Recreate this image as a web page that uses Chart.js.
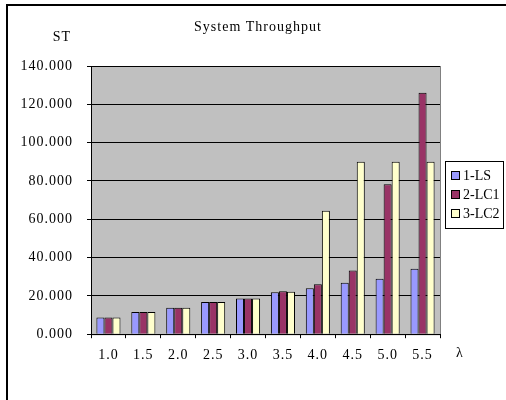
<!DOCTYPE html>
<html>
<head>
<meta charset="utf-8">
<script src="https://cdn.jsdelivr.net/npm/chart.js@4.4.0/dist/chart.umd.min.js"></script>
<style>
  html, body { margin: 0; padding: 0; background: #fff; overflow: hidden; }
  #wrap { position: relative; width: 506px; height: 400px; }
  #frame { position: absolute; left: 6px; top: 4px; width: 700px; height: 600px; border: 2px solid #000; }
  #myChart { position: absolute; left: 0; top: 0; }
</style>
</head>
<body>
<div id="wrap">
  <div id="frame"></div>
  <canvas id="myChart" width="506" height="400"></canvas>
</div>
<script>
// data
const lambdas = ["1.0", "1.5", "2.0", "2.5", "3.0", "3.5", "4.0", "4.5", "5.0", "5.5"]
const ls  = [8.7, 11.6, 13.8, 16.8, 18.7, 21.9, 24.0, 26.8, 28.9, 34.1]
const lc1 = [8.7, 11.6, 13.8, 16.8, 18.7, 22.4, 26.1, 33.2, 78.3, 126.1]
const lc2 = [8.7, 11.6, 13.8, 16.8, 18.7, 22.2, 64.4, 90.0, 90.0, 90.0]
const seriesNames = ["1-LS", "2-LC1", "3-LC2"]
const yTicks = [0, 20, 40, 60, 80, 100, 120, 140]
const chartTitle = "System Throughput"

const font = "'Liberation Serif', 'DejaVu Serif', serif"

// grey plot area + title, axis names and boxed legend
const excelLook = {
    id: 'excelLook',
    beforeDraw(chart) {
        let a = chart.chartArea
        let ctx = chart.ctx
        // wider spacing like the original CJK font
        ctx.letterSpacing = '1px'
        ctx.save()
        ctx.fillStyle = '#c0c0c0'
        ctx.fillRect(a.left, a.top, a.right - a.left, a.bottom - a.top)
        ctx.strokeStyle = '#808080'
        ctx.lineWidth = 1
        ctx.strokeRect(a.left + 0.5, a.top + 0.5, a.right - a.left, a.bottom - a.top)
        ctx.restore()
    },
    afterDraw(chart) {
        let ctx = chart.ctx
        ctx.save()
        ctx.fillStyle = '#000'
        ctx.font = "14px " + font
        ctx.textBaseline = 'middle'
        ctx.textAlign = 'center'
        ctx.fillText(chartTitle, 258, 27)
        ctx.fillText("ST", 62, 37)
        ctx.fillText("λ", 460, 353)

        // legend
        let lx = 445, ly = 161, lw = 58, lh = 67
        ctx.fillStyle = '#fff'
        ctx.fillRect(lx, ly, lw, lh)
        ctx.strokeStyle = '#000'
        ctx.lineWidth = 1
        ctx.strokeRect(lx + 0.5, ly + 0.5, lw, lh)
        ctx.textAlign = 'left'
        ctx.letterSpacing = '0px'
        chart.data.datasets.forEach((ds, i) => {
            let y = ly + 15 + i * 19
            ctx.fillStyle = ds.backgroundColor
            ctx.fillRect(lx + 6.5, y - 4.5, 8, 8)
            ctx.strokeRect(lx + 6.5, y - 4.5, 8, 8)
            ctx.fillStyle = '#000'
            ctx.fillText(ds.label, lx + 18, y)
        })
        ctx.restore()
    }
}

const ctx = document.getElementById('myChart')

new Chart(ctx, {
    type: 'bar',
    data: {
        labels: lambdas,
        datasets: [
            { label: seriesNames[0], data: ls,  backgroundColor: '#9999ff' },
            { label: seriesNames[1], data: lc1, backgroundColor: '#993366' },
            { label: seriesNames[2], data: lc2, backgroundColor: '#ffffcc' }
        ].map(d => Object.assign(d, { borderColor: '#000', borderWidth: 1, barPercentage: 1, categoryPercentage: 0.69 }))
    },
    options: {
        responsive: false,
        animation: false,
        layout: { padding: { left: 0, right: 66, top: 66, bottom: 27 } },
        plugins: {
            legend: { display: false },
            tooltip: { enabled: false },
            title: { display: false }
        },
        scales: {
            x: {
                grid: { offset: true, drawOnChartArea: false, color: '#000', tickLength: 4 },
                border: { color: '#000' },
                ticks: { color: '#000', padding: 9, font: { family: font, size: 14 }, maxRotation: 0 }
            },
            y: {
                min: 0,
                max: 140,
                afterFit: (s) => { s.width = 91 },
                afterBuildTicks: (s) => { s.ticks = yTicks.map(v => ({ value: v })) },
                grid: { color: '#000', tickLength: 4 },
                border: { color: '#000' },
                ticks: {
                    color: '#000',
                    padding: 14,
                    font: { family: font, size: 14 },
                    callback: (v) => v.toFixed(3)
                }
            }
        }
    },
    plugins: [excelLook]
});
</script>
</body>
</html>
